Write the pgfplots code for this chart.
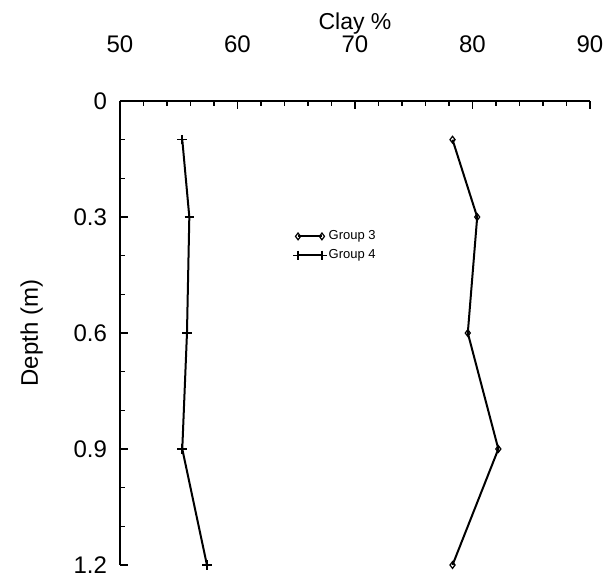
\documentclass[border=0pt]{standalone}
\usepackage{fontspec}
\setmainfont{Liberation Sans}
\usepackage{pgfplots}
\pgfplotsset{compat=1.18}

\begin{document}
\begin{tikzpicture}
  \begin{axis}[
      at={(0,0)}, anchor=south west,
      width=235pt, height=232pt, scale only axis,
      xmin=50, xmax=90, ymin=0, ymax=1.2,
      y dir=reverse,
      axis x line*=top, axis y line*=left,
      axis line style={line width=1pt},
      xtick={50,60,70,80,90}, minor x tick num=4,
      ytick={0,0.3,0.6,0.9,1.2}, minor y tick num=2,
      tick align=inside,
      major tick length=4pt, minor tick length=2.5pt,
      tick style={line width=0.8pt, black},
      xticklabel shift=20.5pt,
      yticklabel shift=3pt,
      /pgf/number format/assume math mode=true,
      tick label style={font=\fontsize{12}{14}\selectfont},
      xlabel={Clay \%},
      xlabel style={font=\fontsize{11.5}{14}\selectfont, yshift=-6pt},
      ylabel={Depth (m)},
      ylabel shift=8.5pt,
      ylabel style={font=\fontsize{12}{14}\selectfont},
      legend style={draw=none, fill=none, font=\fontsize{6.5}{8}\selectfont,
        at={(0.355,0.735)}, anchor=north west, row sep=1.5pt,
        nodes={inner sep=1pt}},
      legend cell align=left,
      legend image code/.code={\draw[#1] plot coordinates {(0cm,0cm) (0.42cm,0cm)};},
    ]
    \addplot[black, line width=1pt, mark=diamond, mark size=1.7pt,
      mark options={solid, line width=0.6pt, fill=white}]
      coordinates {(78.3,0.1)(80.4,0.3)(79.6,0.6)(82.2,0.9)(78.3,1.2)};
    \addlegendentry{Group 3}
    \addplot[black, line width=1pt, mark=+, mark size=2.4pt,
      mark options={solid, line width=0.8pt}]
      coordinates {(55.3,0.1)(55.9,0.3)(55.7,0.6)(55.3,0.9)(57.4,1.2)};
    \addlegendentry{Group 4}
  \end{axis}
  \pgfresetboundingbox
  \path (-60pt,-7.5pt) rectangle (243pt,282.5pt);
\end{tikzpicture}
\end{document}
